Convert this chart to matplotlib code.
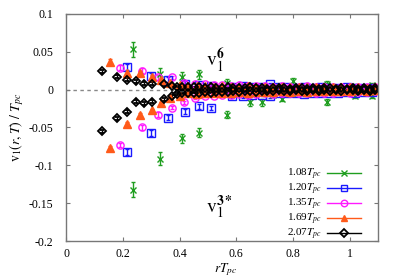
import matplotlib
matplotlib.use("Agg")
import matplotlib.pyplot as plt
from matplotlib.ticker import FuncFormatter

plt.rcParams['font.family'] = ['Liberation Serif', 'DejaVu Serif']
plt.rcParams['mathtext.fontset'] = 'stix'
plt.rcParams['axes.unicode_minus'] = False

labels = ["1.08", "1.20", "1.35", "1.69", "2.07"]

# 1.08 Tpc (green)
r_108 = [0.235, 0.33, 0.407, 0.467, 0.568, 0.65, 0.69, 0.73, 0.76, 0.80, 0.92, 1.02, 1.08]
hi_108 = [0.053, 0.021, 0.017, 0.020, 0.009, 0.004, 0.003, 0.004, 0.003, 0.011, 0.007, 0.004, 0.006]
lo_108 = [-0.132, -0.091, -0.064, -0.057, -0.033, -0.017, -0.017, -0.007, -0.012, -0.004, -0.016, -0.008, -0.008]
err_108 = [0.010, 0.008, 0.006, 0.006, 0.005, 0.004, 0.004, 0.003, 0.003, 0.004, 0.004, 0.003, 0.003]

# 1.20 Tpc (blue)
r_120 = [0.214, 0.298, 0.361, 0.418, 0.467, 0.512, 0.586, 0.625, 0.656, 0.69, 0.72,
         0.75, 0.78, 0.81, 0.84, 0.87, 0.90, 0.93, 0.96, 0.99, 1.02, 1.05, 1.08]
hi_120 = [0.030, 0.018, 0.013, 0.008, 0.006, 0.005, 0.004, 0.005, 0.004, 0.003, 0.007,
          0.003, 0.003, 0.002, 0.003, 0.002, 0.003, 0.002, 0.002, 0.003, 0.002, 0.002, 0.002]
lo_120 = [-0.083, -0.057, -0.037, -0.029, -0.022, -0.024, -0.009, -0.009, -0.007, -0.007, -0.009,
          -0.004, -0.005, -0.004, -0.006, -0.004, -0.005, -0.004, -0.005, -0.003, -0.004, -0.003, -0.003]
err_120 = [0.004, 0.004, 0.003, 0.003, 0.003, 0.003, 0.002, 0.002, 0.002, 0.002, 0.002,
           0.002, 0.002, 0.002, 0.002, 0.002, 0.002, 0.002, 0.002, 0.002, 0.002, 0.002, 0.002]

# 1.35 Tpc (magenta)
r_135 = [0.189, 0.267, 0.323, 0.372, 0.414, 0.456,
         0.49, 0.52, 0.55, 0.58, 0.61, 0.64, 0.67, 0.70, 0.73, 0.76, 0.79,
         0.82, 0.85, 0.88, 0.91, 0.94, 0.97, 1.00, 1.03, 1.06, 1.09]
hi_135 = [0.029, 0.025, 0.016, 0.016, 0.009, 0.007,
          0.007, 0.006, 0.006, 0.005, 0.006, 0.005, 0.005, 0.005, 0.004, 0.005, 0.004,
          0.004, 0.005, 0.004, 0.004, 0.003, 0.004, 0.003, 0.004, 0.003, 0.003]
lo_135 = [-0.073, -0.050, -0.033, -0.024, -0.017, -0.011,
          -0.009, -0.008, -0.007, -0.007, -0.006, -0.007, -0.006, -0.005, -0.006, -0.005, -0.005,
          -0.004, -0.005, -0.004, -0.004, -0.004, -0.003, -0.004, -0.003, -0.003, -0.002]
err_135 = [0.003, 0.003, 0.003, 0.002, 0.002, 0.002] + [0.001] * 21

# 1.69 Tpc (orange)
r_169 = [0.154, 0.214, 0.26, 0.302, 0.333, 0.365,
         0.40, 0.43, 0.46, 0.49, 0.52, 0.55, 0.58, 0.61, 0.64, 0.67, 0.70, 0.73,
         0.76, 0.79, 0.82, 0.85, 0.88, 0.91, 0.94, 0.97, 1.00, 1.03, 1.06, 1.09]
hi_169 = [0.037, 0.022, 0.022, 0.017, 0.013, 0.009,
          0.006, 0.005, 0.005, 0.005, 0.004, 0.005, 0.004, 0.004, 0.005, 0.004, 0.004, 0.003,
          0.004, 0.004, 0.003, 0.004, 0.003, 0.003, 0.004, 0.003, 0.003, 0.003, 0.002, 0.003]
lo_169 = [-0.077, -0.046, -0.033, -0.027, -0.018, -0.011,
          -0.008, -0.005, -0.006, -0.004, -0.005, -0.004, -0.004, -0.003, -0.004, -0.003, -0.003, -0.003,
          -0.002, -0.003, -0.002, -0.003, -0.002, -0.002, -0.002, -0.002, -0.002, -0.001, -0.002, -0.001]
err_169 = [0.003, 0.003, 0.002, 0.002, 0.002, 0.002] + [0.001] * 24

# 2.07 Tpc (black)
r_207 = [0.126, 0.179, 0.214, 0.246, 0.274, 0.302, 0.347, 0.372,
         0.39, 0.41, 0.43, 0.45, 0.47, 0.49, 0.51, 0.53, 0.55, 0.57, 0.59, 0.61,
         0.63, 0.65, 0.67, 0.69, 0.71, 0.73, 0.75, 0.77, 0.79, 0.81, 0.83, 0.85,
         0.87, 0.89, 0.91, 0.93, 0.95, 0.97, 0.99, 1.01, 1.03, 1.05, 1.07, 1.09]
hi_207 = [0.024, 0.017, 0.013, 0.011, 0.008, 0.008, 0.007, 0.005,
          0.004, 0.004, 0.003, 0.003, 0.003, 0.002, 0.003, 0.002, 0.002, 0.003, 0.002, 0.002,
          0.002, 0.003, 0.002, 0.002, 0.001, 0.002, 0.002, 0.002, 0.001, 0.002, 0.002, 0.001,
          0.002, 0.001, 0.002, 0.002, 0.001, 0.002, 0.001, 0.002, 0.001, 0.002, 0.001, 0.002]
lo_207 = [-0.055, -0.038, -0.029, -0.016, -0.018, -0.016, -0.013, -0.009,
          -0.006, -0.005, -0.005, -0.004, -0.004, -0.003, -0.004, -0.003, -0.003, -0.003, -0.002, -0.003,
          -0.002, -0.002, -0.003, -0.002, -0.002, -0.002, -0.001, -0.002, -0.002, -0.001, -0.002, -0.002,
          -0.001, -0.002, -0.001, -0.002, -0.001, -0.002, -0.001, -0.001, -0.002, -0.001, -0.002, -0.001]
err_207 = [0.002] * 8 + [0.001] * 36

series = [
    (r_108, hi_108, lo_108, err_108, '#1f9e1f', 'x', 'full', 5),
    (r_120, hi_120, lo_120, err_120, '#1a1aff', 's', 'none', 5.2),
    (r_135, hi_135, lo_135, err_135, '#ff1aff', 'o', 'none', 5.2),
    (r_169, hi_169, lo_169, err_169, '#ff5a1a', '^', 'full', 5.5),
    (r_207, hi_207, lo_207, err_207, 'black', 'D', 'none', 4.3),
]

fig = plt.figure(figsize=(3.98, 2.78), dpi=100)
ax = fig.add_axes([0.166, 0.133, 0.784, 0.817])

ax.axhline(0, color='#888888', lw=1, ls=(0, (2.5, 2.5)), zorder=1)

handles = []
for (r, hi, lo, err, col, mk, fs, ms), lab in zip(series, labels):
    mew = 1.3 if mk == 'D' else 1.0
    kw = dict(fmt=mk, color=col, ms=ms, mew=mew, fillstyle=fs, elinewidth=1,
              capsize=1.5, capthick=1, lw=0)
    ax.errorbar(r, hi, yerr=err, **kw)
    ax.errorbar(r, lo, yerr=err, **kw)
    h, = ax.plot([], [], marker=mk, color=col, ms=ms - 0.5, mew=mew, fillstyle=fs, lw=1)
    handles.append(h)

ax.set_xlim(0, 1.1)
ax.set_ylim(-0.2, 0.1)
ax.set_xticks([0, 0.2, 0.4, 0.6, 0.8, 1.0])
ax.set_yticks([-0.2, -0.15, -0.1, -0.05, 0, 0.05, 0.1])
fmt = FuncFormatter(lambda v, p: '%g' % round(v, 3))
ax.xaxis.set_major_formatter(fmt)
ax.yaxis.set_major_formatter(fmt)
ax.tick_params(direction='in', top=True, right=True, length=3, width=0.8,
               color='#777777', labelsize=8.5)
ax.tick_params(axis='y', pad=9)
ax.tick_params(axis='x', pad=5)
for s in ax.spines.values():
    s.set_color('#777777')
    s.set_linewidth(1)

ax.set_xlabel(r'$rT_{pc}$', fontsize=9.5)
ax.xaxis.set_label_coords(0.51, -0.09)
ax.set_ylabel(r'$\mathrm{v}_1(r,T)\ /\ T_{pc}$', fontsize=10, labelpad=2)

ax.text(0.495, 0.037, r'$\mathrm{v}_1^{\mathbf{6}}$', fontsize=14, va='center', ha='left')
ax.text(0.495, -0.155, r'$\mathrm{v}_1^{\mathbf{3*}}$', fontsize=14, va='center', ha='left')

ax.legend(handles, [l + r'$T_{pc}$' for l in labels], loc='lower right',
          bbox_to_anchor=(0.965, -0.035), markerfirst=False, frameon=False,
          fontsize=8, handlelength=3.0, labelspacing=0.0, handletextpad=0.5,
          borderaxespad=0.2, numpoints=1)

fig.savefig('out.png', dpi=100)
